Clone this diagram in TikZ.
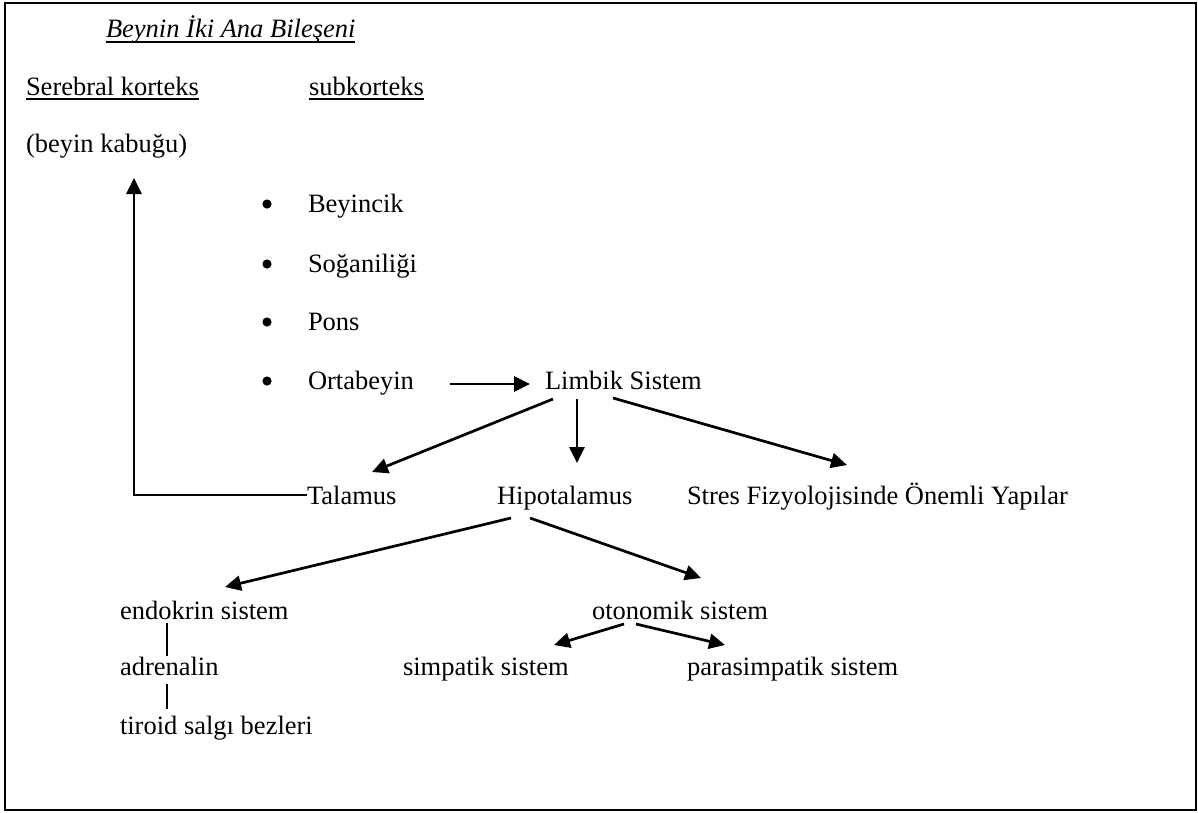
\documentclass[tikz,border=0pt]{standalone}
\usepackage{fontspec}
\setmainfont{Liberation Serif}
\usetikzlibrary{arrows.meta,calc}
\begin{document}
\begin{tikzpicture}[x=1pt,y=-1pt,
  txt/.style={anchor=base west,inner sep=0pt,outer sep=0pt,font=\fontsize{26.5}{30}\selectfont},
  arr/.style={line width=2.7pt,-{Triangle[length=16pt,width=15pt]}},
  thin/.style={line width=1.4pt},
  ul/.style={line width=1.4pt}]
\useasboundingbox (0,0) rectangle (1198,812);
\draw[line width=1.8pt] (5,3) rectangle (1196,810);
% texts
\node[txt,font=\fontsize{26.5}{30}\selectfont\itshape] (title) at (106,37) {Beynin İki Ana Bileşeni};
\node[txt] (ser) at (26,95) {Serebral korteks};
\node[txt] (sub) at (309,95) {subkorteks};
\node[txt] (kab) at (26,152) {(beyin kabuğu)};
\node[txt] (b1) at (308,212) {Beyincik};
\node[txt] (b2) at (308,272) {Soğaniliği};
\node[txt] (b3) at (308,330) {Pons};
\node[txt] (b4) at (308,389) {Ortabeyin};
\node[txt] (lim) at (545,389) {Limbik Sistem};
\node[txt] (tal) at (307,504) {Talamus};
\node[txt] (hip) at (497,504) {Hipotalamus};
\node[txt] (str) at (687,504) {Stres Fizyolojisinde Önemli Yapılar};
\node[txt] (end) at (120,619) {endokrin sistem};
\node[txt] (oto) at (592,619) {otonomik sistem};
\node[txt] (adr) at (120,675) {adrenalin};
\node[txt] (sim) at (403,675) {simpatik sistem};
\node[txt] (par) at (687,675) {parasimpatik sistem};
\node[txt] (tir) at (120,734) {tiroid salgı bezleri};
% underlines
\draw[ul] ($(title.base west)+(0,5)$) -- ($(title.base east)+(0,5)$);
\draw[ul] ($(ser.base west)+(0,4)$) -- ($(ser.base east)+(0,4)$);
\draw[ul] ($(sub.base west)+(0,4)$) -- ($(sub.base east)+(0,4)$);
% bullets
\foreach \n in {b1,b2,b3,b4} \fill ($(\n.base west)+(-41,-8)$) circle[radius=4.6pt];
% connectors
\draw[arr] ($(b4.base east)+(36,-5)$) -- ($(lim.base west)+(-15,-5)$);
\draw[arr] ($(lim.base west)+(8,10)$) -- ($(tal.base west)+(65,-32)$);
\draw[arr] ($(lim.base west)+(32,10)$) -- ($(hip.base west)+(80,-41)$);
\draw[arr] ($(lim.base west)+(68,9)$) -- ($(str.base west)+(160,-39)$);
\draw[arr] ($(tal.base west)+(0,-9)$) -| ($(kab.base west)+(108,26)$);
\draw[arr] ($(hip.base west)+(14,14)$) -- ($(end.base west)+(105,-32)$);
\draw[arr] ($(hip.base west)+(33,14)$) -- ($(oto.base west)+(109,-41)$);
\draw[arr] ($(oto.base west)+(32,5)$) -- ($(sim.base west)+(151,-30)$);
\draw[arr] ($(oto.base west)+(44,5)$) -- ($(par.base west)+(38,-30)$);
\draw[thin] ($(end.base west)+(47,4)$) -- ($(adr.base west)+(47,-19)$);
\draw[thin] ($(adr.base west)+(47,9)$) -- ($(tir.base west)+(47,-25)$);
\end{tikzpicture}
\end{document}
